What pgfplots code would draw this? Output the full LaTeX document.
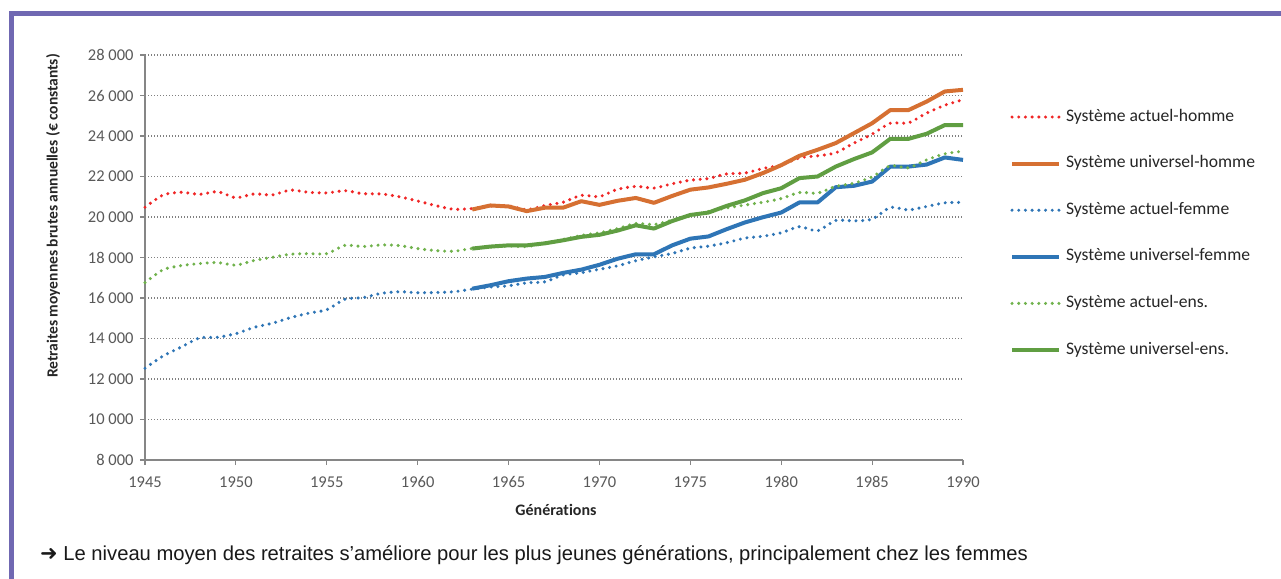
\documentclass[border=0pt]{standalone}
\usepackage{fontspec}
\setmainfont[Ligatures=NoCommon]{Carlito}
\newfontfamily\arialfont{Liberation Sans}
\newfontfamily\dejavu{DejaVu Sans}
\usepackage{pgfplots}
\pgfplotsset{compat=1.18}
\definecolor{cred}{RGB}{240,38,38}
\definecolor{corange}{RGB}{214,112,50}
\definecolor{cblue}{RGB}{46,117,182}
\definecolor{cgreenL}{RGB}{112,178,76}
\definecolor{cgreen}{RGB}{96,158,66}
\definecolor{cframe}{RGB}{112,104,178}
\definecolor{cgrid}{RGB}{128,128,128}
\definecolor{caxis}{RGB}{134,134,134}
\definecolor{ctick}{RGB}{89,89,89}
\definecolor{ctext}{RGB}{38,38,38}
\tikzset{dotline/.style={line width=3.4bp, line cap=round, dash pattern=on 0bp off 6.7bp},
         solidline/.style={line width=4bp, line join=round}}
\begin{document}
\begin{tikzpicture}
\useasboundingbox[fill=white] (0,0) rectangle (1281bp,-579bp);
\draw[cframe, line width=5bp, line join=miter] (11.5bp,-579bp) -- (11.5bp,-13.5bp) -- (1281bp,-13.5bp);
\begin{axis}[
  at={(145bp,-460bp)}, anchor=south west, scale only axis,
  width=818bp, height=405bp,
  xmin=1945, xmax=1990, ymin=8000, ymax=28000,
  xtick={1945,1950,...,1990}, ytick={8000,10000,...,28000},
  scaled y ticks=false, scaled x ticks=false,
  axis x line*=bottom, axis y line*=left,
  axis line style={-, draw=caxis, line width=1.5bp},
  tick align=outside, major tick length=5bp,
  tick style={draw=caxis, line width=1.2bp},
  ymajorgrids,
  grid style={draw=cgrid, line width=1.2bp, dash pattern=on 1.2bp off 1.8bp},
  /pgf/number format/assume math mode=true,
  ticklabel style={font=\fontsize{16.5bp}{20bp}\selectfont, text=ctick},
  xticklabel style={/pgf/number format/1000 sep={}, yshift=-8bp},
  yticklabel style={/pgf/number format/fixed, /pgf/number format/1000 sep={\ }, xshift=-3bp},
  clip=false,
  legend cell align=left,
  legend style={at={(axis description cs:1.0575,0.8691)}, anchor=north west,
    draw=none, fill=none, inner sep=0pt, outer sep=0pt, row sep=28.6bp,
    nodes={inner sep=0pt, text height=13bp, text depth=5bp,
      font=\fontsize{17.6bp}{20bp}\selectfont, text=ctext},
    /tikz/every odd column/.append style={column sep=5bp}},
  legend image code/.code={\draw[#1] (0bp,0bp) -- (47bp,0bp);},
]
\addplot[cred, dotline, smooth, tension=0.4] table {
1945 20480
1946 21090
1947 21220
1948 21120
1949 21250
1950 20950
1951 21140
1952 21090
1953 21330
1954 21220
1955 21190
1956 21300
1957 21150
1958 21140
1959 21000
1960 20790
1961 20560
1962 20380
1963 20420
1964 20540
1965 20550
1966 20360
1967 20570
1968 20730
1969 21070
1970 21010
1971 21370
1972 21510
1973 21430
1974 21640
1975 21820
1976 21900
1977 22130
1978 22170
1979 22400
1980 22560
1981 22920
1982 23020
1983 23170
1984 23650
1985 24090
1986 24630
1987 24650
1988 25130
1989 25520
1990 25790
};
\addlegendentry{Système actuel-homme}
\addplot[corange, solidline] table {
1963 20370
1964 20570
1965 20520
1966 20290
1967 20460
1968 20460
1969 20780
1970 20600
1971 20800
1972 20940
1973 20700
1974 21040
1975 21350
1976 21460
1977 21640
1978 21840
1979 22170
1980 22560
1981 23020
1982 23320
1983 23650
1984 24140
1985 24630
1986 25280
1987 25280
1988 25700
1989 26200
1990 26280
};
\addlegendentry{Système universel-homme}
\addplot[cblue, dotline, smooth, tension=0.4] table {
1945 12530
1946 13140
1947 13580
1948 14030
1949 14060
1950 14240
1951 14550
1952 14750
1953 15030
1954 15250
1955 15420
1956 15940
1957 16020
1958 16230
1959 16310
1960 16260
1961 16270
1962 16310
1963 16440
1964 16540
1965 16600
1966 16750
1967 16800
1968 17140
1969 17250
1970 17420
1971 17590
1972 17840
1973 18030
1974 18200
1975 18460
1976 18560
1977 18730
1978 18960
1979 19050
1980 19220
1981 19520
1982 19320
1983 19830
1984 19810
1985 19890
1986 20470
1987 20350
1988 20520
1989 20700
1990 20720
};
\addlegendentry{Système actuel-femme}
\addplot[cblue, solidline] table {
1963 16460
1964 16630
1965 16830
1966 16960
1967 17040
1968 17240
1969 17400
1970 17640
1971 17940
1972 18160
1973 18160
1974 18600
1975 18930
1976 19040
1977 19400
1978 19730
1979 19990
1980 20220
1981 20720
1982 20720
1983 21470
1984 21540
1985 21750
1986 22490
1987 22490
1988 22590
1989 22940
1990 22820
};
\addlegendentry{Système universel-femme}
\addplot[cgreenL, dotline, smooth, tension=0.4] table {
1945 16760
1946 17400
1947 17600
1948 17700
1949 17750
1950 17620
1951 17850
1952 18010
1953 18160
1954 18190
1955 18190
1956 18600
1957 18540
1958 18620
1959 18590
1960 18440
1961 18340
1962 18310
1963 18450
1964 18520
1965 18570
1966 18540
1967 18700
1968 18890
1969 19090
1970 19220
1971 19430
1972 19680
1973 19630
1974 19840
1975 20050
1976 20270
1977 20450
1978 20590
1979 20730
1980 20910
1981 21210
1982 21180
1983 21510
1984 21670
1985 21980
1986 22530
1987 22430
1988 22820
1989 23120
1990 23250
};
\addlegendentry{Système actuel-ens.}
\addplot[cgreen, solidline] table {
1963 18440
1964 18540
1965 18600
1966 18600
1967 18700
1968 18850
1969 19020
1970 19120
1971 19330
1972 19590
1973 19430
1974 19800
1975 20100
1976 20220
1977 20550
1978 20820
1979 21180
1980 21420
1981 21920
1982 22000
1983 22490
1984 22860
1985 23190
1986 23860
1987 23860
1988 24110
1989 24540
1990 24540
};
\addlegendentry{Système universel-ens.}
\end{axis}
\node[rotate=90, font=\bfseries\fontsize{15.5bp}{18bp}\selectfont, text=ctext] at (53bp,-216bp)
  {Retraites moyennes brutes annuelles (€ constants)};
\node[font=\bfseries\fontsize{16bp}{19bp}\selectfont, text=ctext] at (556bp,-510bp) {Générations};
\node[anchor=base west, inner sep=0pt, font=\arialfont\fontsize{20.2bp}{24bp}\selectfont, text=black!90]
  at (40bp,-560bp) {{\dejavu\fontsize{21bp}{24bp}\selectfont ➜}\ Le niveau moyen des retraites s’améliore pour les plus jeunes générations, principalement chez les femmes};
\end{tikzpicture}
\end{document}
